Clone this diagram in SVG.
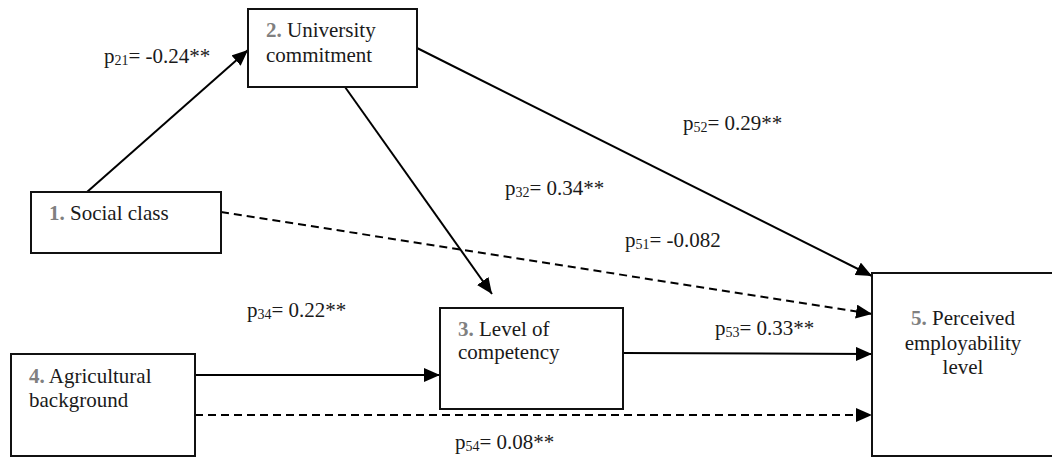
<svg xmlns="http://www.w3.org/2000/svg" width="1052" height="460" viewBox="0 0 1052 460">
<style>
.box{fill:#fff;stroke:#111;stroke-width:2}
.t{font-size:21px;fill:#1a1a1a}
.n{fill:#808080;font-weight:bold}
.s{font-size:14px}
.e{stroke:#000;stroke-width:2;fill:none}
.d{stroke-dasharray:8 5}
</style>
<defs>
<marker id="ah" viewBox="0 0 16 14" refX="16" refY="7" markerWidth="16" markerHeight="14" markerUnits="userSpaceOnUse" orient="auto">
<path d="M0,0 L16,7 L0,14 Z" fill="#000"/>
</marker>
</defs>
<rect width="1052" height="460" fill="#fff"/>
<g id="connectors">
<line class="e" x1="87" y1="192" x2="248" y2="50" marker-end="url(#ah)"/>
<line class="e" x1="345" y1="87" x2="492" y2="294" marker-end="url(#ah)"/>
<line class="e" x1="417" y1="48" x2="872" y2="276" marker-end="url(#ah)"/>
<line class="e d" x1="221" y1="212" x2="872" y2="314" marker-end="url(#ah)"/>
<line class="e" x1="195" y1="375" x2="440" y2="375" marker-end="url(#ah)"/>
<line class="e" x1="623" y1="353" x2="872" y2="354" marker-end="url(#ah)"/>
<line class="e d" x1="195" y1="415" x2="872" y2="415" marker-end="url(#ah)"/>
</g>
<g font-family="Liberation Serif, Times New Roman, serif">
<g id="labels">
<text class="t" x="104" y="63">p<tspan class="s" dy="2">21</tspan><tspan dy="-2">= -0.24**</tspan></text>
<text class="t" x="683" y="130">p<tspan class="s" dy="2">52</tspan><tspan dy="-2">= 0.29**</tspan></text>
<text class="t" x="505" y="195">p<tspan class="s" dy="2">32</tspan><tspan dy="-2">= 0.34**</tspan></text>
<text class="t" x="625" y="247">p<tspan class="s" dy="2">51</tspan><tspan dy="-2">= -0.082</tspan></text>
<text class="t" x="247" y="317">p<tspan class="s" dy="2">34</tspan><tspan dy="-2">= 0.22**</tspan></text>
<text class="t" x="715" y="335">p<tspan class="s" dy="2">53</tspan><tspan dy="-2">= 0.33**</tspan></text>
<text class="t" x="455" y="449">p<tspan class="s" dy="2">54</tspan><tspan dy="-2">= 0.08**</tspan></text>
</g>
<g id="node1">
<rect class="box" x="31" y="192" width="190" height="61"/>
<text class="t" x="49" y="220"><tspan class="n">1.</tspan> Social class</text>
</g>
<g id="node2">
<rect class="box" x="248" y="9" width="169" height="78"/>
<text class="t" x="266" y="37"><tspan class="n">2.</tspan> University</text>
<text class="t" x="266" y="62">commitment</text>
</g>
<g id="node3">
<rect class="box" x="440" y="308" width="183" height="101"/>
<text class="t" x="458" y="336"><tspan class="n">3.</tspan> Level of</text>
<text class="t" x="458" y="359">competency</text>
</g>
<g id="node4">
<rect class="box" x="11" y="354" width="184" height="102"/>
<text class="t" x="29" y="383"><tspan class="n">4.</tspan> Agricultural</text>
<text class="t" x="29" y="407">background</text>
</g>
<g id="node5">
<rect class="box" x="872" y="273" width="200" height="183"/>
<text class="t" x="963" y="325" text-anchor="middle"><tspan class="n">5.</tspan> Perceived</text>
<text class="t" x="963" y="350" text-anchor="middle">employability</text>
<text class="t" x="963" y="374" text-anchor="middle">level</text>
</g>
</g>
</svg>
